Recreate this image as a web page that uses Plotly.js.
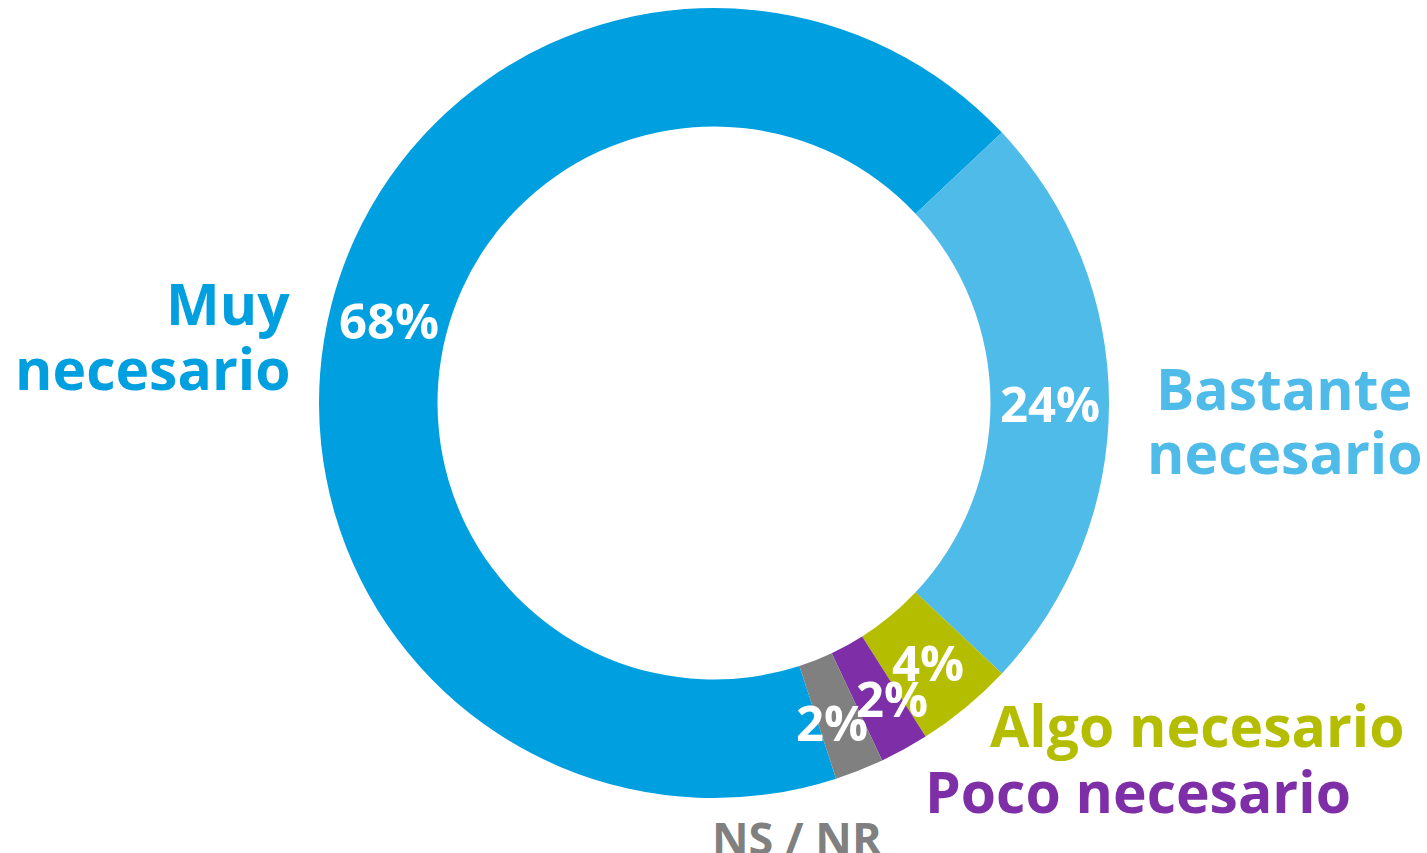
<!DOCTYPE html>
<html>
<head>
<meta charset="utf-8">
<script src="https://cdn.plot.ly/plotly-3.0.1.min.js"></script>
<style>
  html, body { margin: 0; padding: 0; background: #ffffff; }
  #chart { width: 1427px; height: 853px; }
</style>
</head>
<body>
<div id="chart"></div>
<script>
// ---- Data ----
const categories = ['Muy necesario', 'Bastante necesario', 'Algo necesario', 'Poco necesario', 'NS / NR'];
const values = [68, 24, 4, 2, 2];
const percentLabels = ['68%', '24%', '4%', '2%', '2%'];
const categoryLines = [['Muy', 'necesario'], ['Bastante', 'necesario'], ['Algo necesario'], ['Poco necesario'], ['NS / NR']];
const colors = ['#009FDF', '#4FBBE8', '#B5BD00', '#7E2FA8', '#808080'];

// ---- Geometry / styling (layout only) ----
const W = 1427, H = 853;
const cx = 714, cy = 403, rOut = 395, holeFrac = 0.70;
const rotationDeg = 162;
const FONT = '"Open Sans", "DejaVu Sans", sans-serif';
// small pixel nudges for the crowded percent labels
const pctNudge = [[0, 0], [0, 0], [0, 0], [16, 1], [-6, 7]];

const trace = {
  type: 'pie',
  labels: categories,
  values: values,
  sort: false,
  direction: 'clockwise',
  rotation: rotationDeg,
  hole: holeFrac,
  marker: { colors: colors, line: { width: 0 } },
  textinfo: 'none',
  hoverinfo: 'label+percent',
  showlegend: false,
  domain: {
    x: [(cx - rOut) / W, (cx + rOut) / W],
    y: [(H - cy - rOut) / H, (H - cy + rOut) / H]
  }
};

// percent labels at slice centroids, computed from the values
const total = values.reduce((a, b) => a + b, 0);
const rMid = rOut * (1 + holeFrac) / 2;
const annotations = [];
let cum = 0;
values.forEach((v, i) => {
  const ang = (rotationDeg + (cum + v / 2) / total * 360) * Math.PI / 180;
  cum += v;
  const px = cx + rMid * Math.sin(ang) + pctNudge[i][0];
  const py = cy - rMid * Math.cos(ang) + pctNudge[i][1];
  annotations.push({
    xref: 'paper', yref: 'paper', x: px / W, y: 1 - py / H,
    xanchor: 'center', yanchor: 'middle', showarrow: false,
    text: percentLabels[i],
    font: { family: FONT, size: 49, color: '#ffffff', weight: 700 }
  });
});

// category labels (one annotation per line for tight line spacing)
const catPos = [
  { x: 292, y: [303, 368], xanchor: 'right' },
  { x: 1284, y: [388, 452], xanchor: 'center' },
  { x: 988, y: [725], xanchor: 'left' },
  { x: 923, y: [791], xanchor: 'left' },
  { x: 797, y: [837], xanchor: 'center' }
];
const catSizes = [57, 57, 57, 57, 45];
categories.forEach((c, i) => {
  const p = catPos[i];
  categoryLines[i].forEach((line, k) => {
    annotations.push({
      xref: 'paper', yref: 'paper', x: p.x / W, y: 1 - p.y[k] / H,
      xanchor: p.xanchor, yanchor: 'middle', showarrow: false,
      text: line,
      font: { family: FONT, size: catSizes[i], color: colors[i], weight: 700 }
    });
  });
});

const layout = {
  width: W, height: H,
  margin: { l: 0, r: 0, t: 0, b: 0 },
  paper_bgcolor: '#ffffff',
  plot_bgcolor: '#ffffff',
  font: { family: FONT },
  showlegend: false,
  annotations: annotations
};

Plotly.newPlot('chart', [trace], layout, { displayModeBar: false, staticPlot: true });
</script>
</body>
</html>
